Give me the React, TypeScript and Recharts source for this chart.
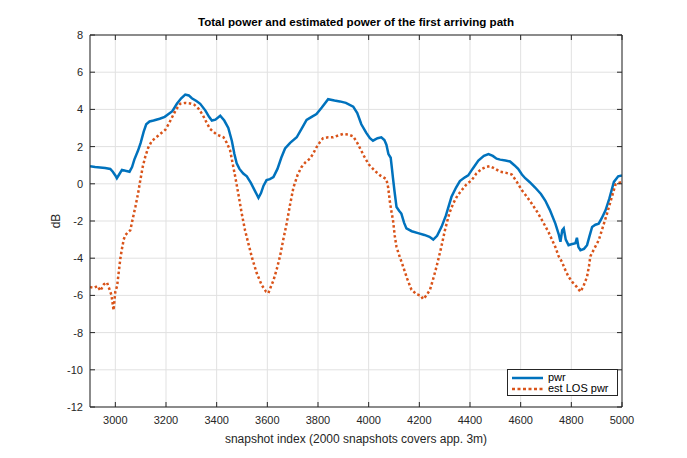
import React from 'react';
import { LineChart, Line, XAxis, YAxis, CartesianGrid, Legend, Label } from 'recharts';

const pwrIdx = [2900, 2920, 2940, 2960, 2980, 2990, 3000, 3006, 3015, 3026, 3040, 3056, 3066, 3075, 3090, 3100, 3112, 3122, 3135, 3151, 3175, 3195, 3210, 3225, 3243, 3260, 3276, 3290, 3302, 3320, 3335, 3355, 3370, 3381, 3395, 3414, 3430, 3446, 3460, 3470, 3479, 3490, 3505, 3519, 3535, 3550, 3565, 3575, 3585, 3597, 3610, 3624, 3640, 3655, 3670, 3690, 3716, 3735, 3755, 3775, 3794, 3815, 3840, 3865, 3886, 3910, 3939, 3955, 3971, 3990, 4005, 4017, 4035, 4050, 4062, 4070, 4078, 4087, 4092, 4096, 4102, 4110, 4120, 4129, 4140, 4149, 4170, 4195, 4220, 4240, 4255, 4270, 4288, 4305, 4327, 4345, 4360, 4380, 4393, 4410, 4433, 4455, 4473, 4490, 4505, 4519, 4540, 4558, 4575, 4590, 4605, 4618, 4635, 4657, 4680, 4697, 4715, 4737, 4750, 4757, 4764, 4770, 4778, 4789, 4800, 4816, 4822, 4828, 4836, 4850, 4862, 4872, 4882, 4895, 4908, 4920, 4935, 4950, 4968, 4985, 5000];
const pwrDb = [0.95, 0.9, 0.88, 0.85, 0.8, 0.65, 0.45, 0.3, 0.5, 0.75, 0.7, 0.65, 0.9, 1.3, 1.8, 2.2, 2.8, 3.2, 3.35, 3.4, 3.5, 3.6, 3.75, 3.9, 4.3, 4.6, 4.8, 4.75, 4.6, 4.45, 4.3, 3.95, 3.6, 3.4, 3.45, 3.66, 3.4, 3.0, 2.3, 1.6, 1.1, 0.8, 0.55, 0.4, 0.05, -0.35, -0.75, -0.5, -0.1, 0.2, 0.25, 0.36, 0.8, 1.4, 1.9, 2.2, 2.5, 2.95, 3.43, 3.6, 3.75, 4.1, 4.55, 4.48, 4.43, 4.35, 4.15, 3.8, 3.2, 2.75, 2.45, 2.32, 2.45, 2.5, 2.35, 2.1, 1.6, 1.4, 0.8, 0.3, -0.4, -1.25, -1.45, -1.6, -2.1, -2.4, -2.55, -2.65, -2.75, -2.85, -3.0, -2.8, -2.3, -1.7, -0.7, -0.2, 0.15, 0.35, 0.45, 0.8, 1.25, 1.5, 1.6, 1.5, 1.35, 1.3, 1.25, 1.2, 1.0, 0.8, 0.5, 0.3, 0.1, -0.2, -0.55, -0.9, -1.4, -2.14, -2.7, -3.12, -2.5, -2.4, -3.0, -3.3, -3.25, -3.2, -2.9, -3.4, -3.57, -3.5, -3.3, -2.8, -2.32, -2.2, -2.14, -1.85, -1.43, -0.8, 0.1, 0.4, 0.45];

const losIdx = [2900, 2915, 2930, 2941, 2955, 2967, 2975, 2985, 2993, 3000, 3007, 3013, 3020, 3026, 3033, 3039, 3050, 3059, 3070, 3079, 3090, 3098, 3108, 3118, 3130, 3144, 3170, 3197, 3210, 3223, 3240, 3256, 3275, 3295, 3312, 3328, 3345, 3360, 3374, 3400, 3427, 3440, 3453, 3463, 3473, 3485, 3499, 3512, 3525, 3540, 3558, 3578, 3595, 3604, 3612, 3624, 3637, 3650, 3663, 3676, 3690, 3703, 3720, 3735, 3750, 3768, 3780, 3794, 3808, 3820, 3840, 3860, 3880, 3899, 3920, 3939, 3955, 3970, 3984, 4000, 4024, 4045, 4070, 4077, 4083, 4090, 4096, 4103, 4110, 4122, 4136, 4152, 4169, 4190, 4205, 4215, 4228, 4242, 4255, 4268, 4285, 4301, 4318, 4334, 4350, 4367, 4385, 4407, 4425, 4446, 4462, 4479, 4500, 4519, 4540, 4565, 4585, 4605, 4625, 4644, 4665, 4684, 4710, 4737, 4750, 4763, 4775, 4789, 4805, 4822, 4836, 4848, 4862, 4870, 4875, 4890, 4908, 4925, 4941, 4958, 4974, 4988, 5000];
const losDb = [-5.55, -5.6, -5.5, -5.75, -5.4, -5.3, -5.6, -6.0, -6.8, -5.8, -5.5, -4.8, -4.0, -3.5, -3.0, -2.77, -2.6, -2.5, -1.8, -1.25, -0.5, 0.15, 0.9, 1.45, 1.95, 2.3, 2.6, 2.9, 3.2, 3.55, 4.0, 4.3, 4.35, 4.32, 4.25, 4.05, 3.7, 3.3, 2.95, 2.65, 2.5, 2.2, 1.8, 1.1, 0.4, -0.5, -1.6, -2.5, -3.2, -4.0, -4.8, -5.45, -5.8, -5.88, -5.6, -5.2, -4.6, -3.9, -3.0, -2.15, -1.1, -0.2, 0.5, 0.9, 1.15, 1.35, 1.6, 1.96, 2.25, 2.45, 2.5, 2.5, 2.6, 2.68, 2.65, 2.55, 2.2, 1.8, 1.43, 1.05, 0.7, 0.45, 0.25, -0.2, -0.9, -1.5, -1.95, -2.8, -3.4, -3.9, -4.45, -5.1, -5.7, -5.95, -6.0, -6.2, -6.0, -5.7, -5.1, -4.45, -3.5, -2.5, -1.6, -1.05, -0.65, -0.35, -0.05, 0.2, 0.55, 0.8, 0.9, 0.95, 0.8, 0.65, 0.6, 0.5, 0.1, -0.35, -0.7, -1.07, -1.5, -1.95, -2.6, -3.4, -3.9, -4.2, -4.6, -5.0, -5.3, -5.55, -5.8, -5.5, -5.0, -4.4, -3.9, -3.5, -3.04, -2.3, -1.6, -0.8, -0.05, 0.05, 0.1];

const seriesNames = ['pwr', 'est LOS pwr'];
const titleText = 'Total power and estimated power of the first arriving path';
const xLabelText = 'snapshot index (2000 snapshots covers app. 3m)';
const yLabelText = 'dB';
const xTicks = [3000, 3200, 3400, 3600, 3800, 4000, 4200, 4400, 4600, 4800, 5000];
const yTicks = [-12, -10, -8, -6, -4, -2, 0, 2, 4, 6, 8];
const xDomain = [2900, 5000];
const yDomain = [-12, 8];

const pwrData = pwrIdx.map((x, i) => ({ x, y: pwrDb[i] }));
const losData = losIdx.map((x, i) => ({ x, y: losDb[i] }));

const FONT = '"Liberation Sans", Arial, Helvetica, sans-serif';
const AX = '#262626';
const BLUE = '#0072BD';
const ORANGE = '#D95319';
const seriesStyles = [
  { color: BLUE, dash: undefined as string | undefined },
  { color: ORANGE, dash: '3 2.5' },
];

const LegendBox = () => {
  return (
    <div style={{ border: '1px solid #262626', background: '#fff', width: 111, height: 27, boxSizing: 'border-box', fontFamily: FONT, fontSize: 11, color: '#000', padding: '2px 0 0 4px' }}>
      {seriesNames.map((name, i) => (
        <div key={name} style={{ display: 'flex', alignItems: 'center', height: 11 }}>
          <svg width={32} height={6} style={{ marginRight: 4 }}>
            <line x1={0} y1={3} x2={31} y2={3} stroke={seriesStyles[i].color} strokeWidth={2.5} strokeDasharray={seriesStyles[i].dash} />
          </svg>
          <span style={{ lineHeight: '11px' }}>{name}</span>
        </div>
      ))}
    </div>
  );
};

export default function App() {
  return (
    <div style={{ position: 'absolute', left: 0, top: 0, width: 687, height: 458, background: '#fff' }}>
      <LineChart width={687} height={458} margin={{ top: 34, right: 64, bottom: 0, left: 0 }}>
        <CartesianGrid stroke="#e1e1e1" strokeWidth={1} />
        <XAxis
          type="number"
          dataKey="x"
          domain={xDomain}
          ticks={xTicks}
          allowDataOverflow
          height={51}
          axisLine={{ stroke: AX, strokeWidth: 1 }}
          tickLine={{ stroke: AX, strokeWidth: 1 }}
          tickSize={-5}
          tickMargin={14}
          tick={{ fill: AX, fontSize: 11, fontFamily: FONT }}
          interval={0}
        >
          <Label value={xLabelText} position="insideBottom" offset={15} style={{ fill: AX, fontSize: 12, fontFamily: FONT }} />
        </XAxis>
        <XAxis
          xAxisId="top"
          orientation="top"
          type="number"
          dataKey="x"
          domain={xDomain}
          ticks={xTicks}
          allowDataOverflow
          height={1}
          axisLine={{ stroke: AX, strokeWidth: 1 }}
          tickLine={{ stroke: AX, strokeWidth: 1 }}
          tickSize={-5}
          tick={{ fill: 'none', fontSize: 1 }}
          tickFormatter={() => ''}
          interval={0}
        >
          <Label value={titleText} position="top" offset={8} style={{ fill: '#000', fontSize: 11.6, fontWeight: 'bold', fontFamily: FONT }} />
        </XAxis>
        <YAxis
          type="number"
          domain={yDomain}
          ticks={yTicks}
          allowDataOverflow
          width={90}
          axisLine={{ stroke: AX, strokeWidth: 1 }}
          tickLine={{ stroke: AX, strokeWidth: 1 }}
          tickSize={-5}
          tickMargin={12}
          tick={{ fill: AX, fontSize: 11, fontFamily: FONT }}
          interval={0}
        >
          <Label value={yLabelText} angle={-90} position="insideLeft" offset={56} style={{ fill: AX, fontSize: 12, fontFamily: FONT, textAnchor: 'middle' }} />
        </YAxis>
        <YAxis
          yAxisId="right"
          orientation="right"
          type="number"
          domain={yDomain}
          ticks={yTicks}
          allowDataOverflow
          width={1}
          axisLine={{ stroke: AX, strokeWidth: 1 }}
          tickLine={{ stroke: AX, strokeWidth: 1 }}
          tickSize={-5}
          tick={{ fill: 'none', fontSize: 1 }}
          tickFormatter={() => ''}
          interval={0}
        />
        <Legend
          layout="vertical"
          align="center"
          verticalAlign="middle"
          content={<LegendBox />}
          wrapperStyle={{ position: 'absolute', left: 507, top: 369, width: 111, height: 27 }}
        />
        <Line data={pwrData} dataKey="y" name={seriesNames[0]} type="linear" stroke={BLUE} strokeWidth={2.5} dot={false} isAnimationActive={false} />
        <Line data={losData} dataKey="y" name={seriesNames[1]} type="linear" stroke={ORANGE} strokeWidth={2.5} strokeDasharray="2.5 2.5" dot={false} isAnimationActive={false} />
      </LineChart>
    </div>
  );
}
